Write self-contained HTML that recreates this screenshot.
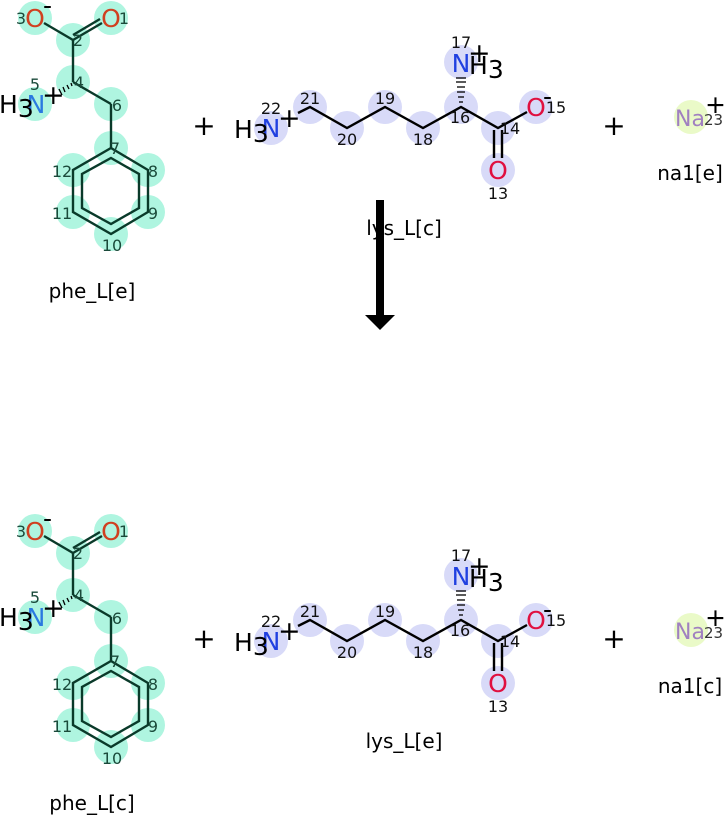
<!DOCTYPE html>
<html><head><meta charset="utf-8"><style>
html,body{margin:0;padding:0;background:#fff;width:725px;height:816px;overflow:hidden}
svg text{font-family:"DejaVu Sans","Liberation Sans",sans-serif}
</style></head><body>
<svg width="725" height="816" viewBox="0 0 725 816" xmlns="http://www.w3.org/2000/svg">
<defs>
<g id="phe">
  <g fill="#aff5e0">
    <circle cx="35" cy="18" r="17"/><circle cx="111" cy="18" r="17"/><circle cx="73" cy="40" r="17"/>
    <circle cx="73" cy="82" r="17"/><circle cx="35" cy="104" r="17"/><circle cx="111" cy="104" r="17"/>
    <circle cx="111" cy="148" r="17"/><circle cx="148" cy="170" r="17"/><circle cx="148" cy="212" r="17"/>
    <circle cx="111" cy="234" r="17"/><circle cx="73" cy="212" r="17"/><circle cx="73" cy="170" r="17"/>
  </g>
  <g stroke="#0a3a2a" stroke-width="2.4" fill="none">
    <line x1="44" y1="23" x2="73" y2="40"/>
    <line x1="73" y1="40" x2="102" y2="23"/><line x1="73" y1="35" x2="100" y2="19"/>
    <line x1="73" y1="40" x2="73" y2="82"/>
    <line x1="73" y1="82" x2="111" y2="104"/>
    <line x1="111" y1="104" x2="111" y2="148"/>
    <polygon points="111,148 148,170 148,212 111,234 73,212 73,170"/>
    <polygon points="111,158 139,174 139,208 111,224 82,208 82,174"/>
  </g>
  <g stroke="#000" stroke-width="1.3">
    <line x1="71" y1="83" x2="72" y2="86"/><line x1="67" y1="85" x2="69" y2="89"/><line x1="63" y1="87" x2="65" y2="92"/><line x1="59" y1="89" x2="62" y2="95"/>
  </g>
  <text x="35" y="27" font-size="25" fill="#d04020" text-anchor="middle">O</text>
  <text x="111" y="27" font-size="25" fill="#d04020" text-anchor="middle">O</text>
  <text x="36" y="113" font-size="25" fill="#2a7ae0" text-anchor="middle">N</text>
  <text x="-1" y="113" font-size="25" fill="#000">H<tspan dy="4">3</tspan></text>
  <text x="42" y="104" font-size="27" fill="#000">+</text>
  <text x="43" y="14" font-size="25" fill="#000">-</text>
  <g font-size="16" fill="#1a4a3a" text-anchor="middle">
    <text x="21" y="24">3</text><text x="124" y="24">1</text><text x="78" y="46">2</text>
    <text x="79" y="88">4</text><text x="35" y="90">5</text><text x="117" y="111">6</text>
    <text x="115" y="154">7</text><text x="153" y="177">8</text><text x="153" y="219">9</text>
    <text x="112" y="251">10</text><text x="62" y="219">11</text><text x="62" y="177">12</text>
  </g>
</g>
<g id="lys">
  <g fill="#d8daf8">
    <circle cx="271" cy="128" r="17"/><circle cx="310" cy="107" r="17"/><circle cx="347" cy="128" r="17"/>
    <circle cx="385" cy="107" r="17"/><circle cx="423" cy="128" r="17"/><circle cx="461" cy="107" r="17"/>
    <circle cx="461" cy="62" r="17"/><circle cx="498" cy="128" r="17"/><circle cx="536" cy="107" r="17"/>
    <circle cx="498" cy="170" r="17"/>
  </g>
  <g stroke="#000" stroke-width="2.4" fill="none">
    <polyline points="298,113 310,107 347,128 385,107 423,128 461,107 498,128 527,112"/>
    <line x1="494" y1="130" x2="494" y2="158"/><line x1="502" y1="130" x2="502" y2="158"/>
  </g>
  <g stroke="#000" stroke-width="1.3">
    <line x1="459" y1="102" x2="463" y2="102"/><line x1="458" y1="97" x2="464" y2="97"/><line x1="457" y1="92" x2="465" y2="92"/><line x1="457" y1="87" x2="465" y2="87"/><line x1="456" y1="82" x2="466" y2="82"/><line x1="456" y1="78" x2="466" y2="78"/>
  </g>
  <text x="461" y="72" font-size="25" fill="#2040e0" text-anchor="middle">N</text>
  <text x="469" y="74" font-size="25" fill="#000">H<tspan dy="4">3</tspan></text>
  <text x="468" y="62" font-size="27" fill="#000">+</text>
  <text x="271" y="137" font-size="25" fill="#2040e0" text-anchor="middle">N</text>
  <text x="234" y="138" font-size="25" fill="#000">H<tspan dy="4">3</tspan></text>
  <text x="278" y="127" font-size="27" fill="#000">+</text>
  <text x="536" y="116" font-size="25" fill="#e01040" text-anchor="middle">O</text>
  <text x="498" y="179" font-size="25" fill="#e01040" text-anchor="middle">O</text>
  <text x="543" y="105" font-size="25" fill="#000">-</text>
  <g font-size="16" fill="#111" text-anchor="middle">
    <text x="271" y="114">22</text><text x="310" y="104">21</text><text x="347" y="145">20</text>
    <text x="385" y="104">19</text><text x="423" y="145">18</text><text x="460" y="123">16</text>
    <text x="461" y="48">17</text><text x="510" y="134">14</text><text x="556" y="113">15</text>
    <text x="498" y="199">13</text>
  </g>
</g>
<g id="na">
  <circle cx="691" cy="117" r="17" fill="#eafac8"/>
  <text x="690" y="126" font-size="22" fill="#a080c0" text-anchor="middle">Na</text>
  <text x="704" y="125" font-size="15" fill="#333">23</text>
  <text x="705" y="113" font-size="25" fill="#000">+</text>
</g>
<g id="plus">
  <text x="204" y="135" font-size="28" fill="#000" text-anchor="middle">+</text>
  <text x="614" y="135" font-size="28" fill="#000" text-anchor="middle">+</text>
</g>
</defs>

<use href="#phe"/><use href="#lys"/><use href="#na"/><use href="#plus"/>
<g font-size="20" fill="#000" text-anchor="middle">
  <text x="92" y="298">phe_L[e]</text>
  <text x="404" y="235">lys_L[c]</text>
  <text x="690" y="180">na1[e]</text>
</g>

<rect x="376" y="200" width="8" height="116" fill="#000"/>
<polygon points="365,315 395,315 380,330" fill="#000"/>

<g transform="translate(0,513)">
  <use href="#phe"/><use href="#lys"/><use href="#na"/><use href="#plus"/>
  <g font-size="20" fill="#000" text-anchor="middle">
    <text x="92" y="297">phe_L[c]</text>
    <text x="404" y="235">lys_L[e]</text>
    <text x="690" y="180">na1[c]</text>
  </g>
</g>
</svg>
</body></html>
